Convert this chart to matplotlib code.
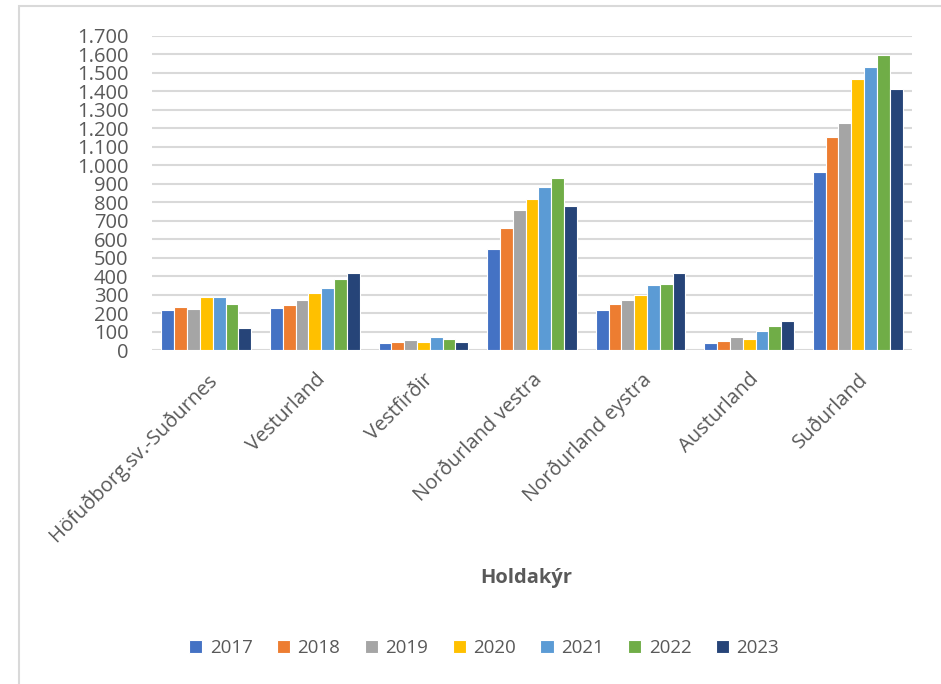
import numpy as np
import matplotlib.pyplot as plt
from matplotlib.patches import Rectangle
from matplotlib.ticker import FuncFormatter

plt.rcParams['font.family'] = ['Open Sans', 'DejaVu Sans']

# Svæði og ár
svaedi = ["Höfuðborg.sv.-Suðurnes", "Vesturland", "Vestfirðir", "Norðurland vestra",
          "Norðurland eystra", "Austurland", "Suðurland"]
ar = ["2017", "2018", "2019", "2020", "2021", "2022", "2023"]

# Fjöldi holdakúa eftir svæði (lesið af myndinni), ein röð á ár
v2017 = [217, 226, 39, 545, 219, 39, 964]
v2018 = [235, 241, 41, 659, 248, 51, 1151]
v2019 = [220, 272, 52, 758, 268, 73, 1230]
v2020 = [286, 306, 41, 819, 298, 60, 1468]
v2021 = [286, 334, 71, 880, 349, 105, 1528]
v2022 = [248, 383, 57, 929, 358, 132, 1598]
v2023 = [118, 419, 45, 779, 418, 158, 1410]
gildi = [v2017, v2018, v2019, v2020, v2021, v2022, v2023]

litir = ["#4472C4", "#ED7D31", "#A5A5A5", "#FFC000", "#5B9BD5", "#70AD47", "#264478"]
grar = "#595959"

fig = plt.figure(figsize=(9.41, 6.84), dpi=100)
ax = fig.add_axes([152/941, 1-350/684, 760/941, (350-35.7)/684])

x = np.arange(len(svaedi))
skref = 0.118
for i, (a, v) in enumerate(zip(ar, gildi)):
    ax.bar(x + (i - 3)*skref, v, width=skref, color=litir[i], edgecolor="white",
           linewidth=0.8, label=a, zorder=3)

ax.set_xlim(-0.5, len(svaedi) - 0.5)
ax.set_ylim(0, 1700)
ax.set_yticks(np.arange(0, 1701, 100))
ax.yaxis.set_major_formatter(FuncFormatter(lambda v, p: f"{int(v):,}".replace(",", ".")))
ax.grid(axis="y", color="#d9d9d9", linewidth=1.5, zorder=0)
for s in ax.spines.values():
    s.set_visible(False)
ax.tick_params(axis="y", length=0, pad=17, labelsize=14.5, labelcolor=grar)
ax.tick_params(axis="x", length=0, pad=14)
ax.set_xticks(x)
ax.set_xticklabels(svaedi, rotation=45, ha="right", rotation_mode="anchor",
                   fontsize=14.5, color=grar)

fig.text(526/941, 1-578/684, "Holdakýr", ha="center", va="center",
         fontsize=14.5, fontweight="bold", color=grar)

fig.legend(loc="center", bbox_to_anchor=(484/941, 1-648/684), ncol=7, frameon=False,
           fontsize=13.5, labelcolor=grar, handlelength=0.7, handleheight=0.7,
           handletextpad=0.4, columnspacing=1.3)

# Rammi utan um myndina
fig.add_artist(Rectangle((19/941, -0.1), 1.2, 1.1 - 6/684, transform=fig.transFigure,
                         fill=False, edgecolor="#d9d9d9", linewidth=1.5))

plt.savefig("out.png", dpi=100)
